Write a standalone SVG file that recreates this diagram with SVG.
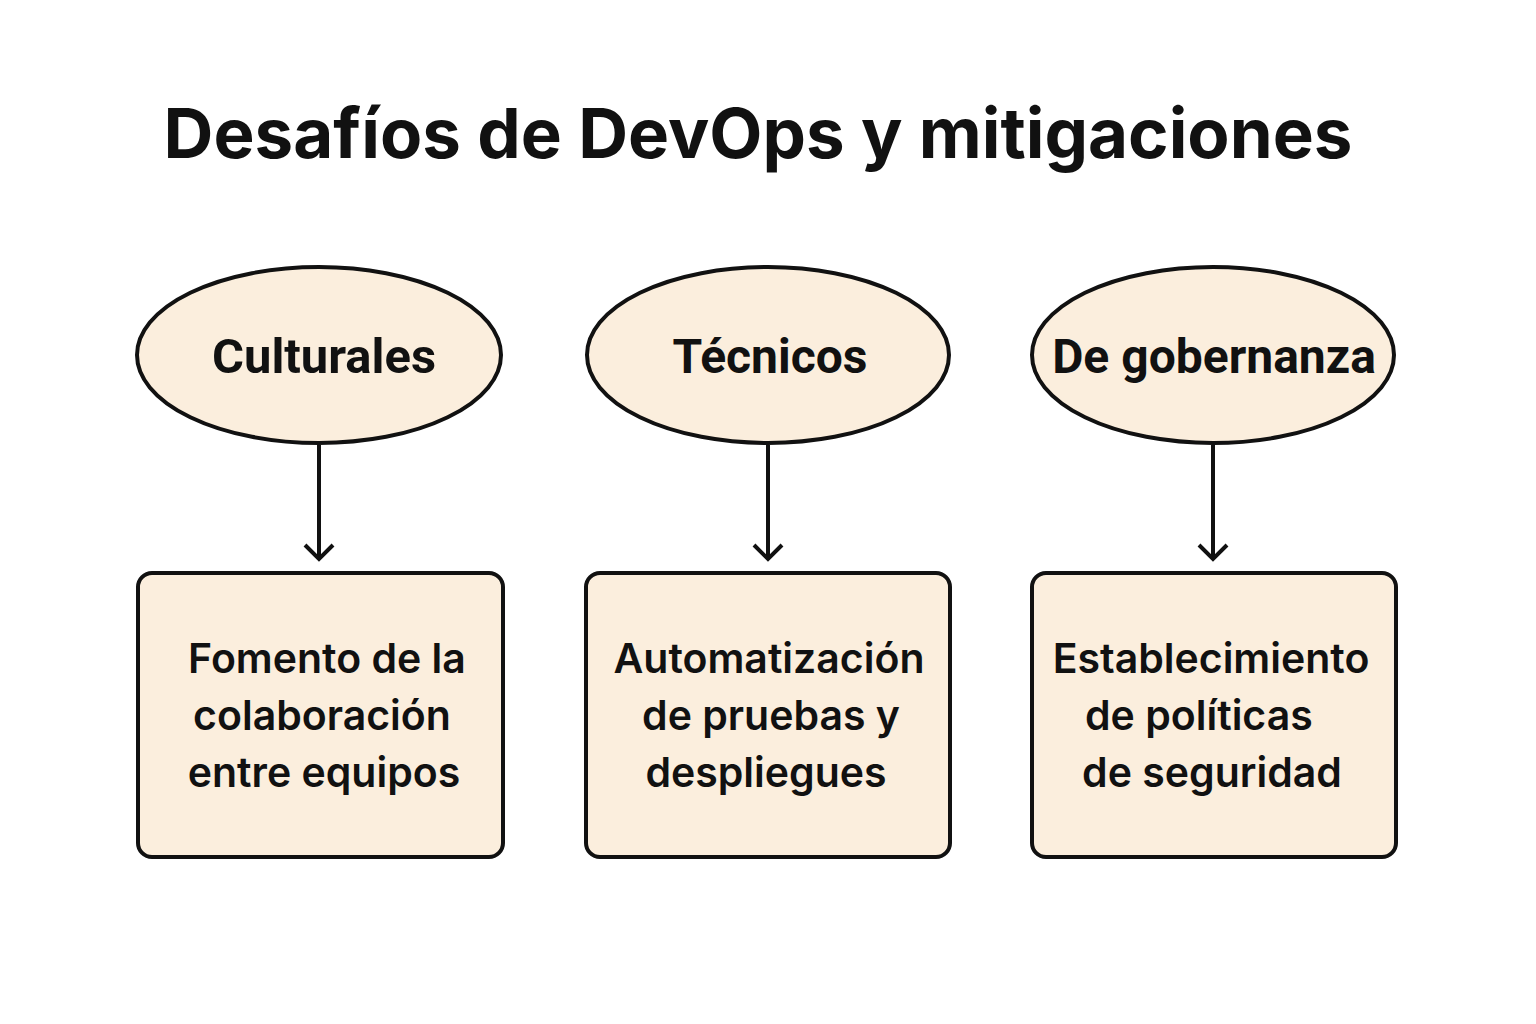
<svg xmlns="http://www.w3.org/2000/svg" width="1536" height="1024" viewBox="0 0 1536 1024">
<defs>
<style>
.title{font-family:Inter,"Noto Sans","Liberation Sans",sans-serif;font-weight:700;font-size:69px;fill:#111;text-anchor:middle}
.cat{fill:#FBEEDD;stroke:#111;stroke-width:4}
.catt{font-family:Roboto,Inter,"Liberation Sans",sans-serif;font-weight:700;font-size:48px;fill:#111;text-anchor:middle}
.box{fill:#FBEEDD;stroke:#111;stroke-width:4}
.boxt{font-family:Inter,"Noto Sans","Liberation Sans",sans-serif;font-weight:600;font-size:41px;fill:#111;text-anchor:middle}
.conn{stroke:#111;stroke-width:4;fill:none}
</style>
</defs>
<rect width="1536" height="1024" fill="#fff"/>
<text class="title" x="758" y="158">Desafíos de DevOps y mitigaciones</text>
<g id="connectors">
<path class="conn" d="M319,445 V559"/>
<path class="conn" d="M768,445 V559"/>
<path class="conn" d="M1213,445 V559"/>
<path class="conn" d="M305,545 L319,559 L333,545"/>
<path class="conn" d="M754,545 L768,559 L782,545"/>
<path class="conn" d="M1199,545 L1213,559 L1227,545"/>
</g>
<g id="n-culturales">
<ellipse class="cat" cx="319" cy="355" rx="182" ry="88"/>
<text class="catt" x="324" y="373" textLength="224" lengthAdjust="spacingAndGlyphs">Culturales</text>
</g>
<g id="n-tecnicos">
<ellipse class="cat" cx="768" cy="355" rx="181" ry="88"/>
<text class="catt" x="770" y="373">Técnicos</text>
</g>
<g id="n-gobernanza">
<ellipse class="cat" cx="1213" cy="355" rx="181" ry="88"/>
<text class="catt" x="1214" y="373">De gobernanza</text>
</g>
<g id="m-culturales">
<rect class="box" x="138" y="573" width="365" height="284" rx="14"/>
<text class="boxt" x="327" y="673">Fomento de la</text>
<text class="boxt" x="322" y="730">colaboración</text>
<text class="boxt" x="324" y="787">entre equipos</text>
</g>
<g id="m-tecnicos">
<rect class="box" x="586" y="573" width="364" height="284" rx="14"/>
<text class="boxt" x="769" y="673">Automatización</text>
<text class="boxt" x="771" y="730">de pruebas y</text>
<text class="boxt" x="766" y="787">despliegues</text>
</g>
<g id="m-gobernanza">
<rect class="box" x="1032" y="573" width="364" height="284" rx="14"/>
<text class="boxt" x="1211" y="673">Establecimiento</text>
<text class="boxt" x="1085" y="730" style="text-anchor:start">de políticas</text>
<text class="boxt" x="1212" y="787">de seguridad</text>
</g>
</svg>
